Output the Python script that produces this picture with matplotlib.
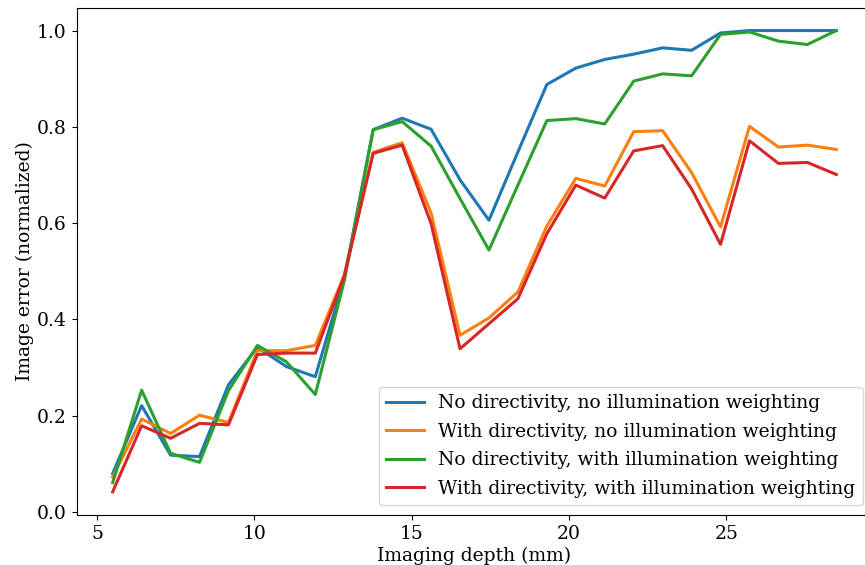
import matplotlib
matplotlib.use("Agg")
import matplotlib.pyplot as plt
import numpy as np

depth = [5.5, 6.42, 7.34, 8.26, 9.18, 10.1, 11.02, 11.94, 12.86, 13.78,
         14.7, 15.62, 16.54, 17.46, 18.38, 19.3, 20.22, 21.14, 22.06, 22.98,
         23.9, 24.82, 25.74, 26.66, 27.58, 28.5]

no_dir_no_ill = [0.080, 0.221, 0.118, 0.115, 0.264, 0.342, 0.302, 0.281, 0.485, 0.794,
                 0.818, 0.795, 0.690, 0.606, 0.748, 0.888, 0.922, 0.940, 0.951, 0.964,
                 0.959, 0.995, 1.000, 1.000, 1.000, 1.000]
dir_no_ill = [0.073, 0.193, 0.163, 0.201, 0.186, 0.335, 0.335, 0.346, 0.492, 0.747,
              0.767, 0.621, 0.367, 0.403, 0.457, 0.594, 0.693, 0.677, 0.790, 0.792,
              0.705, 0.592, 0.801, 0.758, 0.762, 0.753]
no_dir_ill = [0.061, 0.253, 0.122, 0.103, 0.252, 0.346, 0.312, 0.244, 0.480, 0.794,
              0.811, 0.760, 0.651, 0.544, 0.679, 0.813, 0.817, 0.806, 0.895, 0.910,
              0.906, 0.992, 0.997, 0.978, 0.971, 1.000]
dir_ill = [0.042, 0.179, 0.153, 0.184, 0.181, 0.327, 0.330, 0.330, 0.490, 0.745,
           0.762, 0.599, 0.339, 0.391, 0.443, 0.578, 0.679, 0.652, 0.750, 0.761,
           0.671, 0.556, 0.771, 0.724, 0.726, 0.701]

labels = ["No directivity, no illumination weighting",
          "With directivity, no illumination weighting",
          "No directivity, with illumination weighting",
          "With directivity, with illumination weighting"]
colors = ["#1f77b4", "#ff7f0e", "#2ca02c", "#d62728"]

plt.rcParams['font.family'] = ['DejaVu Serif']
plt.rcParams['font.size'] = 13.5

fig = plt.figure(figsize=(8.65, 5.65), dpi=100)
ax = fig.add_axes([76.5 / 865, (565 - 514.8) / 565, (872.5 - 76.5) / 865, (514.8 - 7.5) / 565])

for ys, lab, c in zip([no_dir_no_ill, dir_no_ill, no_dir_ill, dir_ill], labels, colors):
    ax.plot(depth, ys, color=c, lw=2.2, label=lab)

ax.set_xlabel("Imaging depth (mm)", labelpad=3)
ax.set_ylabel("Image error (normalized)", labelpad=2.4)
ax.set_xticks([5, 10, 15, 20, 25])
ax.set_yticks([0.0, 0.2, 0.4, 0.6, 0.8, 1.0])
ax.legend(loc="lower right", labelspacing=0.56, borderaxespad=0.5)

fig.savefig("out.png", dpi=100)
